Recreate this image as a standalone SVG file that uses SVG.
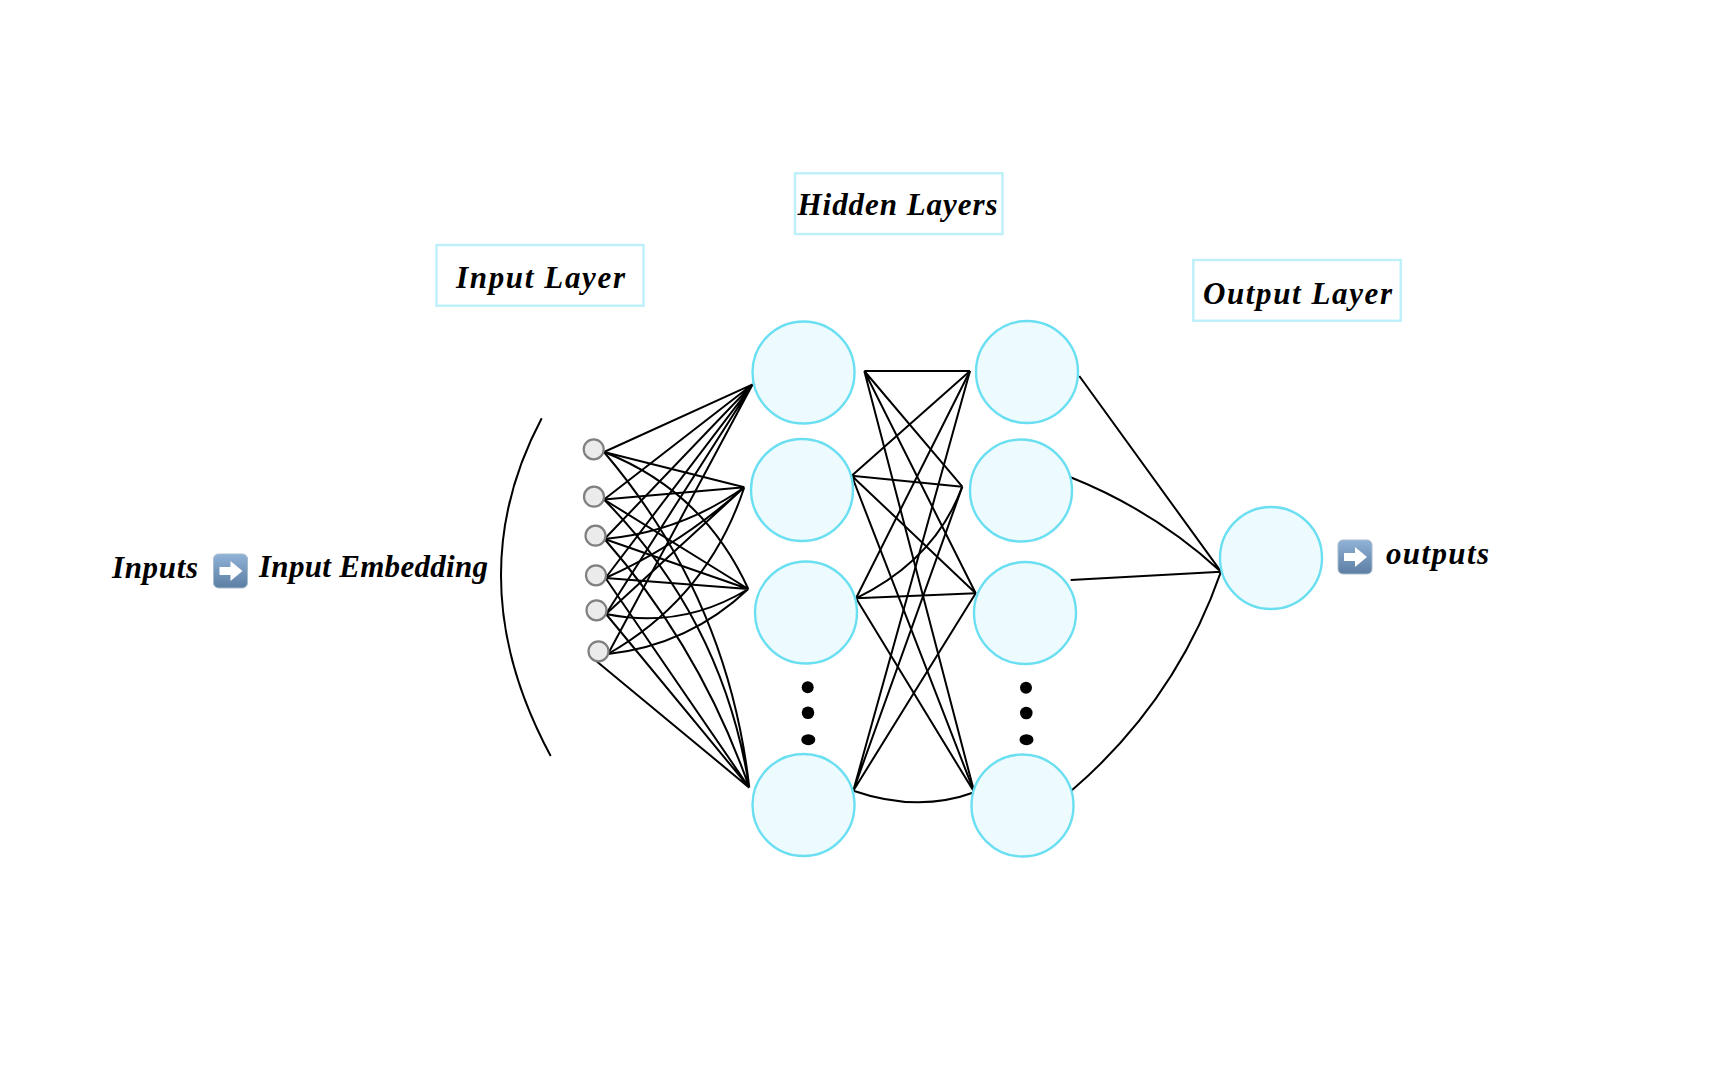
<svg xmlns="http://www.w3.org/2000/svg" width="1728" height="1080" viewBox="0 0 1728 1080">
<style>
.n{fill:#edfbfe;stroke:#6bdff2;stroke-width:2.4}
.s{fill:#ebebeb;stroke:#808080;stroke-width:2.2}
.b{fill:#fff;stroke:#bdf0f9;stroke-width:2.4}
.c path{fill:none;stroke:#000;stroke-width:2}
.t{font-family:"Liberation Serif",serif;font-style:italic;font-weight:bold;font-size:31px;fill:#000}
</style>
<defs>
<linearGradient id="g" x1="0" y1="0" x2="0" y2="1"><stop offset="0" stop-color="#8fb2d6"/><stop offset="1" stop-color="#5c7ea3"/></linearGradient>
<g id="arrow"><rect x="0" y="0" width="34" height="34" rx="5" fill="url(#g)" stroke="#a9bccd" stroke-width="1"/><path d="M6 13H17V7L29 17L17 27V21H6Z" fill="#fff"/></g>
</defs>
<rect width="1728" height="1080" fill="#fff"/>
<g class="c" id="connectors">
<path d="M604 452L752.7 384.3M604 499.5L752.7 384.3M604.5 539L752.7 384.3M605.5 578L752.7 384.3M606 614L752.7 384.3M608 654L752.7 384.3"/>
<path d="M604 452L744.3 487.3M604 499.5L744.3 487.3M604.5 539Q681 532 744.3 487.3M605.5 578Q680 545 744.3 487.3M606 614L744.3 487.3M608 654Q708 597 744.3 487.3"/>
<path d="M604 452Q703.6 491 748.3 589M604 499.5L748.3 589M604.5 539L748.3 589M605.5 578L748.3 589M606 614Q682 629.5 748.3 589M608 654Q689 645 748.3 589"/>
<path d="M604 452Q728 598 749.3 787.7M604 499.5Q723 620 749.3 787.7M604.5 539Q701 649 749.3 787.7M605.5 578L749.3 787.7M606 614L749.3 787.7M595 660L749.3 787.7"/>
<path d="M864.3 371H970M864.3 371L962.3 486.7M864.3 371L975.7 593.3M864.3 371L974.3 792.3"/>
<path d="M851.7 475.7L970 371M851.7 475.7L962.3 486.7M851.7 475.7L975.7 593.3M851.7 475.7L974.3 792.3"/>
<path d="M856 598.3L970 371M856 598.3Q935 560 962.3 486.7M856 598.3L975.7 593.3M856 598.3L974.3 792.3"/>
<path d="M853.3 790.7L970 371M853.3 790.7L962.3 486.7M853.3 790.7L975.7 593.3M853.3 790.7Q918 813 974.3 792.3"/>
<path d="M1079.3 376L1221 571.7M1069.3 476.7Q1153.7 510 1221 571.7M1070.7 580L1221 571.7M1071 791Q1175.7 701.6 1221 571.7"/>
<path d="M541.7 418.3Q456 580 550.7 756"/>
</g>
<g id="input-1"><circle class="s" cx="593.7" cy="449.3" r="10"/></g>
<g id="input-2"><circle class="s" cx="594" cy="496.7" r="10"/></g>
<g id="input-3"><circle class="s" cx="595.5" cy="535.7" r="10"/></g>
<g id="input-4"><circle class="s" cx="596" cy="575.3" r="10"/></g>
<g id="input-5"><circle class="s" cx="596.5" cy="610.3" r="10"/></g>
<g id="input-6"><circle class="s" cx="598.5" cy="651.3" r="10"/></g>
<g id="hidden-a1"><circle class="n" cx="803.5" cy="372.5" r="51"/></g>
<g id="hidden-a2"><circle class="n" cx="802" cy="490" r="51"/></g>
<g id="hidden-a3"><circle class="n" cx="806" cy="612.5" r="51"/></g>
<g id="hidden-a4"><circle class="n" cx="803.5" cy="805" r="51"/></g>
<g id="hidden-b1"><circle class="n" cx="1027" cy="372" r="51"/></g>
<g id="hidden-b2"><circle class="n" cx="1021" cy="490.5" r="51"/></g>
<g id="hidden-b3"><circle class="n" cx="1025" cy="613" r="51"/></g>
<g id="hidden-b4"><circle class="n" cx="1022.5" cy="805.5" r="51"/></g>
<g id="output"><circle class="n" cx="1271" cy="558" r="51"/></g>
<g id="dots-a"><circle cx="807.7" cy="687.3" r="6"/><circle cx="808" cy="712.7" r="6.3"/><ellipse cx="808.3" cy="739.7" rx="7" ry="5.5"/></g>
<g id="dots-b"><circle cx="1026" cy="687.7" r="6"/><circle cx="1026.3" cy="713" r="6.3"/><ellipse cx="1026.5" cy="739.7" rx="7" ry="5.5"/></g>
<g id="label-input"><rect class="b" x="436.5" y="245" width="207" height="60.7"/><text class="t" x="456" y="288" textLength="169" lengthAdjust="spacing">Input Layer</text></g>
<g id="label-hidden"><rect class="b" x="795" y="173.3" width="207.5" height="60.7"/><text class="t" x="797.5" y="215" textLength="200" lengthAdjust="spacing">Hidden Layers</text></g>
<g id="label-output"><rect class="b" x="1193.3" y="260" width="207.4" height="60.7"/><text class="t" x="1203" y="304" textLength="189" lengthAdjust="spacing">Output Layer</text></g>
<g id="inputs-text"><text class="t" x="112" y="578" textLength="86" lengthAdjust="spacing">Inputs</text><use href="#arrow" x="213.5" y="554"/><text class="t" x="259" y="577" textLength="229" lengthAdjust="spacing">Input Embedding</text></g>
<g id="outputs-text"><use href="#arrow" x="1338" y="540"/><text class="t" x="1386" y="564" textLength="103" lengthAdjust="spacing">outputs</text></g>
</svg>
